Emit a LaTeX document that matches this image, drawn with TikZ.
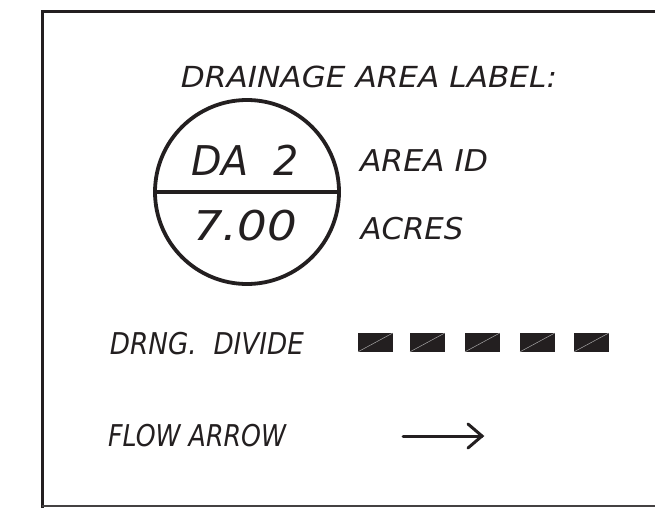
\documentclass[tikz,border=0pt]{standalone}
\usepackage{fontspec}
\newfontfamily\cad{DejaVu Sans}
\usetikzlibrary{calc}
\definecolor{ink}{HTML}{231F20}
\newcommand{\fitw}[2]{\resizebox{#1}{\height}{#2}}
\begin{document}
\begin{tikzpicture}[x=1pt,y=-1pt,
  lbl/.style={font=\cad\itshape\fontsize{30}{30}\selectfont, text=ink, inner sep=0pt, anchor=center},
  ttl/.style={font=\cad\itshape\fontsize{29}{29}\selectfont, text=ink, inner sep=0pt, anchor=center},
  big/.style={font=\cad\itshape\fontsize{41}{41}\selectfont, text=ink, inner sep=0pt, anchor=center},
  dashbox/.style={fill=ink, draw=ink, line width=0.8pt}]
\useasboundingbox (0,0) rectangle (655,508);
% frame
\coordinate (ftr) at (656,12);
\coordinate (ftl) at (42,12);
\coordinate (fbl) at (42,506);
\coordinate (fbr) at (656,506);
\draw[ink, line width=3pt, line cap=rect] (ftr) -- (ftl) -- (fbl);
\draw[ink!85, line width=1.4pt] (fbl) -- (fbr);
% title
\node[ttl] (title) at (369,77) {\fitw{376pt}{DRAINAGE\ AREA\ LABEL:}};
% circle symbol
\node[circle, draw=ink, line width=3.8pt, minimum size=184pt, inner sep=0pt] (circ) at (247,192) {};
\draw[ink, line width=4.5pt] (circ.west) -- (circ.east);
\node[big] (da) at (245,160) {\fitw{108pt}{DA\ \ 2}};
\node[big] (ac) at (245,226) {\fitw{104pt}{7.00}};
\node[lbl] (areaid) at (424,161) {\fitw{128pt}{AREA\ ID}};
\node[lbl] (acres) at (412,229) {\fitw{103pt}{ACRES}};
% divide
\node[lbl] (drng) at (207,344) {\fitw{194pt}{DRNG.\ \ DIVIDE}};
\foreach \i/\x in {1/358,2/410,3/465,4/520,5/574}{
  \node[dashbox, minimum width=34pt, minimum height=18pt, inner sep=0pt, anchor=north west] (d\i) at (\x,333) {};
  \draw[gray!70, line width=0.5pt] (d\i.south west) -- (d\i.north east);
}
% flow arrow
\node[lbl] (flow) at (197,436) {\fitw{178pt}{FLOW\ ARROW}};
\coordinate (a0) at (403,436);
\coordinate (a1) at (482,436);
\coordinate (h1) at (468,424);
\coordinate (h2) at (468,448);
\draw[ink, line width=3pt, line cap=round] (a0) -- (a1);
\draw[ink, line width=3pt, line cap=round, line join=miter] (h1) -- (a1) -- (h2);
\end{tikzpicture}
\end{document}
